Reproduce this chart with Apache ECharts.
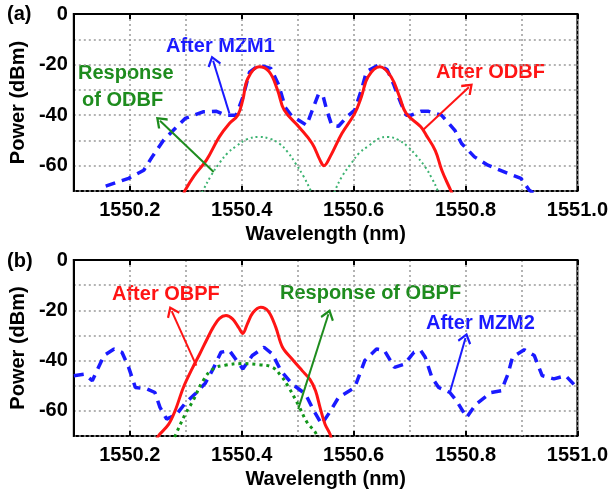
<!DOCTYPE html>
<html>
<head>
<meta charset="utf-8">
<script src="https://cdn.jsdelivr.net/npm/echarts@6.0.0/dist/echarts.min.js"></script>
<style>
  html, body { margin: 0; padding: 0; background: #fff; }
  #chart { width: 611px; height: 492px; }
</style>
</head>
<body>
<div id="chart"></div>
<script>
  // tick labels
  var xTickLabels = [1550.2, 1550.4, 1550.6, 1550.8, 1551.0];
  var yTickLabels = [0, -20, -40, -60];

  // (a) spectra
  var afterMZM1 = [[1550.157,-68.1],[1550.198,-65],[1550.225,-61.8],[1550.24,-56.5],[1550.26,-50],[1550.281,-45.3],
    [1550.299,-41.3],[1550.331,-38.7],[1550.355,-38.5],[1550.372,-40],[1550.39,-40],[1550.402,-33],[1550.414,-23],
    [1550.431,-20.2],[1550.452,-21.5],[1550.466,-28],[1550.478,-37],[1550.49,-40.5],[1550.502,-42],[1550.516,-44],
    [1550.537,-31.8],[1550.545,-32],[1550.552,-38],[1550.561,-44],[1550.573,-44.4],[1550.588,-40.7],[1550.602,-38],
    [1550.614,-30],[1550.623,-22.8],[1550.644,-20.2],[1550.66,-22],[1550.672,-28],[1550.684,-35],[1550.694,-40],
    [1550.703,-40],[1550.72,-38.5],[1550.734,-38.5],[1550.757,-40],[1550.781,-46],[1550.793,-51.2],[1550.816,-56.5],
    [1550.84,-59.8],[1550.876,-63.1],[1550.899,-65],[1550.914,-69.7],[1550.93,-72]];
  var afterODBF = [[1550.295,-72],[1550.299,-69.7],[1550.315,-64],[1550.337,-57.8],[1550.36,-48.6],[1550.378,-43.3],
    [1550.393,-40],[1550.402,-34],[1550.411,-25.5],[1550.431,-20.9],[1550.449,-22.8],[1550.464,-30],[1550.476,-38],
    [1550.502,-44.6],[1550.526,-51.2],[1550.54,-57.8],[1550.547,-60],[1550.558,-56.5],[1550.579,-47.3],[1550.602,-39.3],
    [1550.614,-32.7],[1550.626,-24.8],[1550.647,-20.9],[1550.667,-24.8],[1550.682,-32.7],[1550.694,-39.3],[1550.72,-44.6],
    [1550.73,-48],[1550.746,-54],[1550.758,-62],[1550.772,-69],[1550.778,-72]];
  var responseODBF = [[1550.32,-74],[1550.331,-69.7],[1550.345,-64],[1550.36,-59],[1550.375,-55],[1550.39,-52.3],
    [1550.41,-49.5],[1550.431,-48.6],[1550.45,-49.3],[1550.467,-51.2],[1550.482,-54.5],[1550.496,-59],[1550.51,-64],
    [1550.523,-69.7],[1550.53,-74],[1550.56,-74],[1550.567,-69.7],[1550.58,-64],[1550.596,-59],[1550.61,-55],
    [1550.626,-52.3],[1550.645,-49.3],[1550.661,-48.6],[1550.68,-49.8],[1550.697,-52.5],[1550.712,-56],[1550.728,-60.5],
    [1550.74,-65],[1550.75,-69.7],[1550.756,-74]];

  // (b) spectra
  var afterMZM2 = [[1550.1,-46],[1550.119,-45.4],[1550.133,-48],[1550.154,-38],[1550.172,-35.4],[1550.186,-36.7],
    [1550.198,-42.7],[1550.21,-50.7],[1550.231,-51.3],[1550.245,-52.7],[1550.254,-58.6],[1550.266,-63.3],[1550.284,-61.3],
    [1550.299,-57],[1550.318,-53],[1550.335,-49],[1550.349,-43.3],[1550.363,-36.7],[1550.378,-36],[1550.402,-43.3],
    [1550.419,-38],[1550.44,-34.7],[1550.455,-37.4],[1550.47,-44],[1550.49,-49.3],[1550.514,-53.3],[1550.529,-60],
    [1550.543,-65.3],[1550.555,-61.3],[1550.573,-54.7],[1550.602,-50.7],[1550.62,-40],[1550.641,-35.4],[1550.655,-36],
    [1550.673,-42.7],[1550.691,-41.4],[1550.708,-36.7],[1550.72,-36],[1550.728,-38.7],[1550.74,-46.7],[1550.752,-50.7],
    [1550.772,-52.7],[1550.784,-56],[1550.802,-62.6],[1550.819,-57.3],[1550.846,-52.7],[1550.864,-52],[1550.876,-45.3],
    [1550.884,-38.7],[1550.905,-35.7],[1550.923,-38],[1550.937,-46],[1550.958,-47.3],[1550.979,-46],[1550.999,-50.7]];
  var afterOBPF = [[1550.245,-73],[1550.251,-70],[1550.269,-65.5],[1550.281,-60],[1550.296,-50.6],[1550.312,-43],
    [1550.325,-37.4],[1550.338,-31.5],[1550.349,-26.8],[1550.36,-23.3],[1550.372,-22.1],[1550.384,-23.5],[1550.395,-27],
    [1550.402,-29.2],[1550.41,-25.5],[1550.42,-21],[1550.434,-18.8],[1550.448,-20.5],[1550.461,-26.8],[1550.473,-34.7],
    [1550.49,-39.4],[1550.508,-44],[1550.522,-47.5],[1550.532,-52],[1550.54,-58.6],[1550.549,-65.3],[1550.558,-69.3],
    [1550.562,-73]];
  var responseOBPF = [[1550.275,-73],[1550.281,-70],[1550.299,-61.4],[1550.313,-56],[1550.331,-48],[1550.349,-43.3],
    [1550.372,-41.8],[1550.4,-41.2],[1550.431,-41.6],[1550.455,-42.7],[1550.47,-46],[1550.484,-50.6],[1550.502,-58],
    [1550.517,-64.6],[1550.532,-68.7],[1550.54,-73]];

  // arrow ends [from, to]
  var arrowMZM1 = [[1550.378,-39.3],[1550.349,-18.5]];
  var arrowRespODBF = [[1550.35,-62.5],[1550.254,-42.2]];
  var arrowODBF = [[1550.725,-45.7],[1550.806,-29]];
  var arrowOBPF = [[1550.319,-42],[1550.275,-20.3]];
  var arrowRespOBPF = [[1550.501,-59.3],[1550.555,-21.6]];
  var arrowMZM2 = [[1550.772,-52.7],[1550.8,-31]];

  var FONT = "'Liberation Sans', Arial, sans-serif";
  var BLUE = '#1a1aff', RED = '#ff1414', GREEN = '#1e8c1e';
  var chevron = 'path://M0,0 L6,7 L4.6,8.2 L0,2.8 L-4.6,8.2 L-6,7 Z';

  var myChart = echarts.init(document.getElementById('chart'));

  function arrow(pts, color) {
    return {
      silent: true,
      symbol: ['none', chevron],
      symbolSize: [14, 11],
      label: { show: false },
      lineStyle: { color: color, width: 2, type: 'solid' },
      data: [[{ coord: pts[0] }, { coord: pts[1] }]]
    };
  }

  function isTick(list, v) {
    return list.some(function (t) { return Math.abs(t - v) < 1e-6; });
  }

  var grids = [
    { left: 68, top: 14, width: 510, height: 177 },
    { left: 68, top: 260, width: 510, height: 176 }
  ];

  var xAxes = [], yAxes = [];
  grids.forEach(function (g, i) {
    g.show = true;
    g.borderColor = '#000';
    g.borderWidth = 2;
    xAxes.push({
      gridIndex: i, type: 'value', min: 1550.1, max: 1551.0, interval: 0.1, position: 'bottom',
      name: 'Wavelength (nm)', nameLocation: 'middle', nameGap: 33,
      nameTextStyle: { fontSize: 20, fontWeight: 'bold', color: '#000', fontFamily: FONT },
      axisLine: { lineStyle: { color: '#000', width: 2 } },
      axisTick: { show: false },
      axisLabel: {
        fontSize: 20, fontWeight: 'bold', color: '#000', fontFamily: FONT, margin: 9,
        formatter: function (v) { return isTick(xTickLabels, v) ? v.toFixed(1) : ''; }
      },
      splitLine: { show: true, lineStyle: { type: [2, 3], color: '#9a9a9a', width: 1.5 } }
    });
    ['bottom', 'top'].forEach(function (pos) {
      xAxes.push({
        gridIndex: i, type: 'value', min: 1550.1, max: 1551.0, position: pos,
        axisLine: { show: false },
        axisTick: { show: true, inside: true, length: 5, customValues: xTickLabels, lineStyle: { color: '#000', width: 2 } },
        axisLabel: { show: false },
        splitLine: { show: false }
      });
    });
    yAxes.push({
      gridIndex: i, type: 'value', min: -70, max: 0, interval: 10,
      name: 'Power (dBm)', nameLocation: 'middle', nameGap: 42,
      nameTextStyle: { fontSize: 20, fontWeight: 'bold', color: '#000', fontFamily: FONT },
      axisLine: { lineStyle: { color: '#000', width: 2 } },
      axisTick: { show: false },
      axisLabel: {
        fontSize: 20, fontWeight: 'bold', color: '#000', fontFamily: FONT, margin: 6,
        formatter: function (v) { return isTick(yTickLabels, v) ? String(v) : ''; }
      },
      splitLine: { show: true, lineStyle: { type: [2, 3], color: '#9a9a9a', width: 1.5 } }
    });
  });

  function line(data, grid, color, width, type, smooth, mark) {
    return {
      type: 'line', xAxisIndex: grid * 3, yAxisIndex: grid, data: data,
      showSymbol: false, smooth: smooth, clip: true,
      lineStyle: { color: color, width: width, type: type },
      markLine: mark
    };
  }

  var option = {
    animation: false,
    backgroundColor: '#fff',
    grid: grids,
    xAxis: xAxes,
    yAxis: yAxes,
    series: [
      line(afterMZM1, 0, BLUE, 3.5, [10, 7], false, arrow(arrowMZM1, BLUE)),
      line(responseODBF, 0, '#3cb371', 2, [2, 3], 0.4, arrow(arrowRespODBF, GREEN)),
      line(afterODBF, 0, RED, 3, 'solid', 0.4, arrow(arrowODBF, RED)),
      line(afterMZM2, 1, BLUE, 3.5, [10, 7], false, arrow(arrowMZM2, BLUE)),
      line(responseOBPF, 1, '#12961a', 3, [3, 4], 0.4, arrow(arrowRespOBPF, GREEN)),
      line(afterOBPF, 1, RED, 3, 'solid', 0.35, arrow(arrowOBPF, RED))
    ],
    graphic: [
      { type: 'text', left: 7, top: 4, style: { text: '(a)', fill: '#000', fontSize: 20, fontWeight: 'bold', fontFamily: FONT } },
      { type: 'text', left: 7, top: 251, style: { text: '(b)', fill: '#000', fontSize: 20, fontWeight: 'bold', fontFamily: FONT } },
      { type: 'text', left: 166, top: 36, style: { text: 'After MZM1', fill: BLUE, fontSize: 20, fontWeight: 'bold', fontFamily: FONT } },
      { type: 'text', left: 78, top: 63, style: { text: 'Response', fill: GREEN, fontSize: 20, fontWeight: 'bold', fontFamily: FONT } },
      { type: 'text', left: 82, top: 90, style: { text: 'of ODBF', fill: GREEN, fontSize: 20, fontWeight: 'bold', fontFamily: FONT } },
      { type: 'text', left: 436, top: 62, style: { text: 'After ODBF', fill: RED, fontSize: 20, fontWeight: 'bold', fontFamily: FONT } },
      { type: 'text', left: 112, top: 284, style: { text: 'After OBPF', fill: RED, fontSize: 20, fontWeight: 'bold', fontFamily: FONT } },
      { type: 'text', left: 280, top: 283, style: { text: 'Response of OBPF', fill: GREEN, fontSize: 20, fontWeight: 'bold', fontFamily: FONT } },
      { type: 'text', left: 426, top: 313, style: { text: 'After MZM2', fill: BLUE, fontSize: 20, fontWeight: 'bold', fontFamily: FONT } }
    ]
  };
  myChart.setOption(option);
</script>
</body>
</html>
